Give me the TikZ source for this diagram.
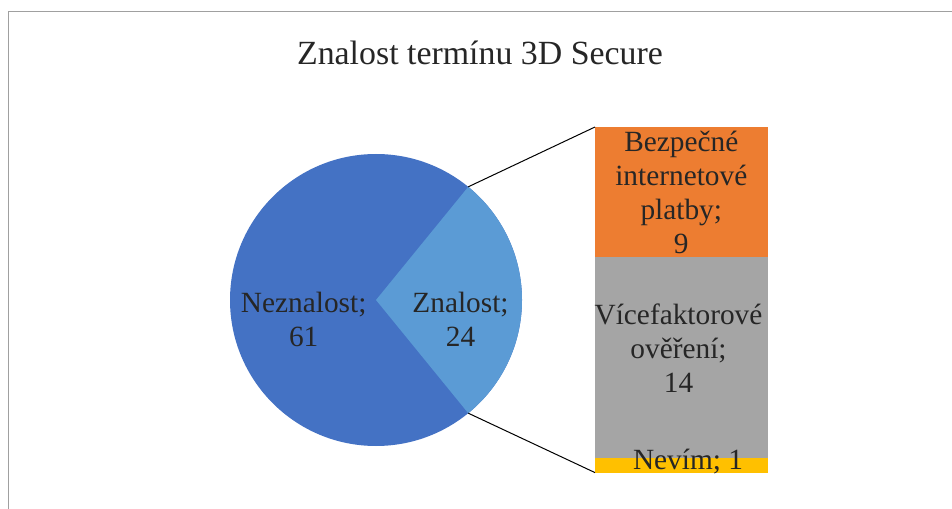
\documentclass[tikz,border=0pt]{standalone}
\usepackage{fontspec}
\setmainfont{Liberation Serif}
\definecolor{neznal}{HTML}{4472C4}
\definecolor{znal}{HTML}{5B9BD5}
\definecolor{bezc}{HTML}{ED7D31}
\definecolor{vicc}{HTML}{A5A5A5}
\definecolor{nevc}{HTML}{FFC000}
\definecolor{txt}{HTML}{262626}
\definecolor{framec}{HTML}{A0A0A0}
\begin{document}
\begin{tikzpicture}[x=0.75pt,y=-0.75pt,
  lbl/.style={font=\fontsize{22}{25.5}\selectfont, text=txt, align=center, inner sep=0pt},
  seg/.style={inner sep=0pt, outer sep=0pt, minimum width=129.5pt, anchor=north west},
  conn/.style={draw=black, line width=0.75pt}]
\useasboundingbox (0,0) rectangle (952,509);
\draw[framec, line width=0.9pt] (8.5,540) -- (8.5,11.5) -- (980,11.5);
\node[font=\fontsize{25.4}{30}\selectfont, text=txt, anchor=base, inner sep=0pt] (title) at (480,65) {Znalost termínu 3D Secure};
% pie
\coordinate (c) at (376,300);
\fill[neznal] (c) circle[radius=146];
\fill[znal] (c) -- ++(-50.82:146) arc[start angle=-50.82, end angle=50.82, radius=146] -- cycle;
\path (c) ++(-50.82:146) coordinate (zt);
\path (c) ++(50.82:146) coordinate (zb);
% bar
\node[seg, fill=bezc, minimum height=97.2pt] (bez) at (595,127) {};
\node[seg, fill=vicc, minimum height=151.2pt] (vic) at (bez.south west) {};
\node[seg, fill=nevc, minimum height=10.8pt] (nev) at (vic.south west) {};
\draw[conn] (zt) -- (bez.north west);
\draw[conn] (zb) -- (nev.south west);
% labels
\node[lbl] (lnez) at (303.7,319) {Neznalost;\\61};
\node[lbl] (lzn) at (460.5,319) {Znalost;\\24};
\node[lbl] (lbez) at (681.3,192.5) {Bezpečné\\internetové\\platby;\\9};
\node[lbl] (lvic) at (678.5,348.5) {Vícefaktorové\\ověření;\\14};
\node[lbl, anchor=base] (lnev) at (688,469.3) {Nevím; 1};
\end{tikzpicture}
\end{document}
